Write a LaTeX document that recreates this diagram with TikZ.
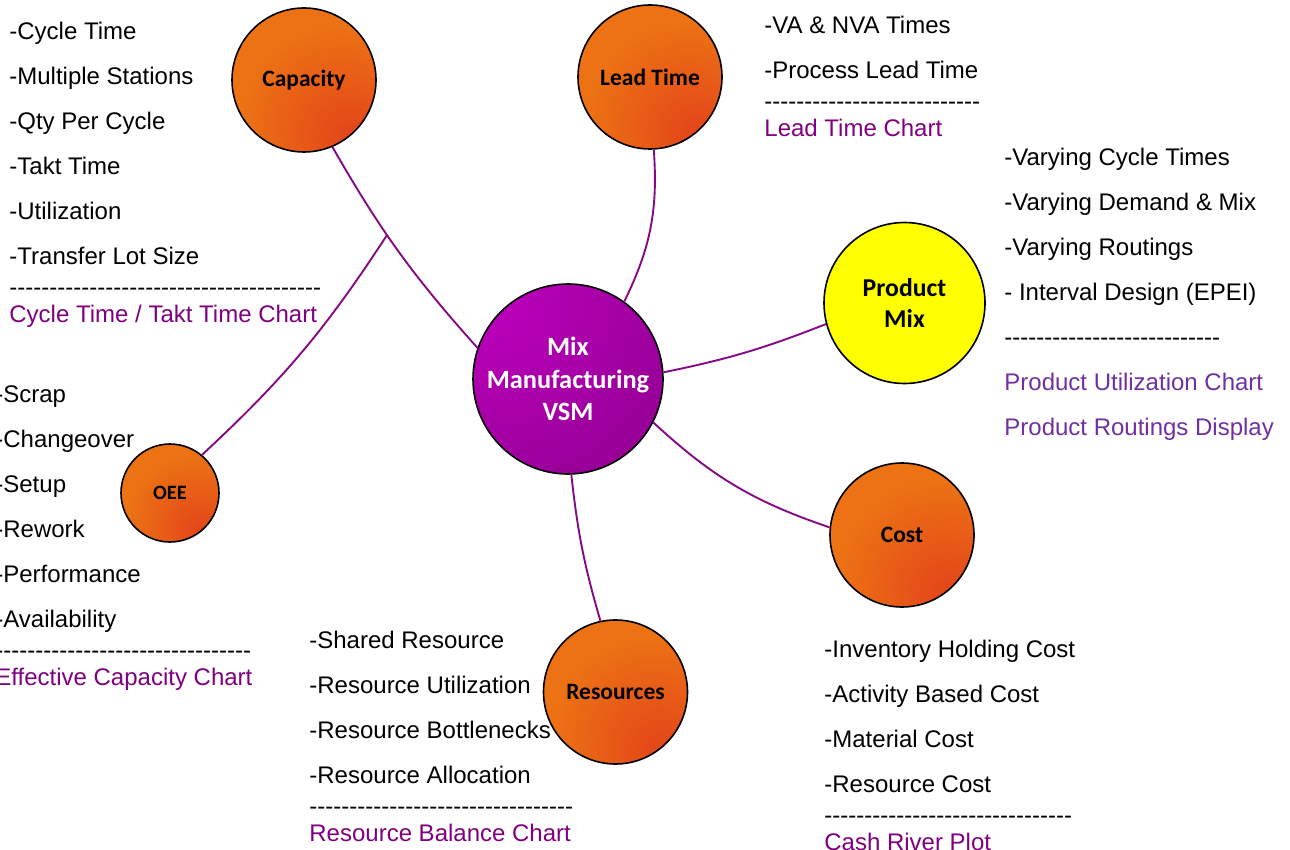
\documentclass[tikz,border=0pt]{standalone}
\usepackage{fontspec}
\newfontfamily\listfont{Liberation Sans}
\newfontfamily\ballfont{Carlito}
\usetikzlibrary{matrix}
\definecolor{linepurple}{RGB}{134,10,134}
\definecolor{chartpurple}{RGB}{128,0,128}
\definecolor{mixpurple}{RGB}{112,48,160}
\definecolor{ballorange}{RGB}{236,114,20}
\definecolor{ballred}{RGB}{227,66,26}
\definecolor{vsmlight}{RGB}{196,0,196}
\definecolor{vsmdark}{RGB}{124,0,124}
\definecolor{prodyellow}{RGB}{255,255,0}
\pgfdeclareradialshading{orangeball}{\pgfpoint{18bp}{-22bp}}{color(0bp)=(ballred); color(12bp)=(ballred!65!ballorange); color(34bp)=(ballorange); color(100bp)=(ballorange)}
\pgfdeclareradialshading{vsmball}{\pgfpoint{-30bp}{28bp}}{color(0bp)=(vsmlight); color(75bp)=(vsmdark); color(100bp)=(vsmdark)}
\newcommand\dashrow[1]{\foreach \k in {1,...,#1}{-}}

\begin{document}
\begin{tikzpicture}[x=0.5pt,y=-0.5pt,
    font=\listfont\fontsize{12}{14}\selectfont,
    ball/.style={circle, draw=black, line width=0.8pt, align=center, inner sep=0pt},
    orange ball/.style={ball, shading=orangeball, minimum size=72pt, font=\ballfont\bfseries\fontsize{11.75}{14}\selectfont},
    notes/.style={matrix of nodes, anchor=north west, inner sep=0pt, row sep=11.5pt,
      nodes={anchor=base west, inner sep=0pt, text height=8.5pt, text depth=2.5pt}},
    chart/.style={text=chartpurple},
    prodchart/.style={text=mixpurple},
    link/.style={draw=linepurple, line width=0.95pt}]
  \useasboundingbox (0,0) rectangle (1290,850);

  % circles
  \node[ball, shading=vsmball, minimum size=95pt, text=white,
    font=\ballfont\bfseries\fontsize{13.2}{16.25}\selectfont] (vsm) at (568,379) {Mix\\Manufacturing\\VSM};
  \node[orange ball] (cap) at (304,80) {Capacity};
  \node[orange ball] (lead) at (650,77) {Lead Time};
  \node[ball, fill=prodyellow, minimum size=80.5pt,
    font=\ballfont\bfseries\fontsize{12.85}{15.5}\selectfont] (prod) at (904.5,303) {Product\\Mix};
  \node[orange ball] (cost) at (902,535) {Cost};
  \node[orange ball] (res) at (615.5,692) {Resources};
  \node[orange ball, minimum size=49pt, font=\ballfont\bfseries\fontsize{10.2}{12}\selectfont] (oee) at (170,493) {OEE};

  % connectors
  \draw[link] (cap.-67) to[bend right=6] coordinate[pos=0.41] (oeejoin) (vsm.161);
  \draw[link] (lead.-87) to[bend left=15] (vsm.54);
  \draw[link] (vsm.4) to[bend right=5] (prod.195);
  \draw[link] (vsm.-27) to[bend right=12] (cost.174);
  \draw[link] (vsm.-88) to[bend right=5] (res.102);
  \draw[link] (oee.50) to[bend right=7] (oeejoin);

  % lists
  \matrix[notes] (caplist) at (9,22.5) {
    -Cycle Time \\
    -Multiple Stations \\
    -Qty Per Cycle \\
    -Takt Time \\
    -Utilization \\
    -Transfer Lot Size \\[-7pt]
    \dashrow{39} \\[-9pt]
    |[chart]| Cycle Time / Takt Time Chart \\
  };
  \matrix[notes] (leadlist) at (764,16.5) {
    -VA \& NVA Times \\
    -Process Lead Time \\[-7pt]
    \dashrow{27} \\[-9pt]
    |[chart]| Lead Time Chart \\
  };
  \matrix[notes] (prodlist) at (1004,148.5) {
    -Varying Cycle Times \\
    -Varying Demand \& Mix \\
    -Varying Routings \\
    - Interval Design (EPEI) \\
    \dashrow{27} \\
    |[prodchart]| Product Utilization Chart \\
    |[prodchart]| Product Routings Display \\
  };
  \matrix[notes] (oeelist) at (-5,385.5) {
    -Scrap \\
    -Changeover \\
    -Setup \\
    -Rework \\
    -Performance \\
    -Availability \\[-7pt]
    \dashrow{32} \\[-9pt]
    |[chart]| Effective Capacity Chart \\
  };
  \matrix[notes] (reslist) at (309,631.5) {
    -Shared Resource \\
    -Resource Utilization \\
    -Resource Bottlenecks \\
    -Resource Allocation \\[-7pt]
    \dashrow{33} \\[-9pt]
    |[chart]| Resource Balance Chart \\
  };
  \matrix[notes] (costlist) at (824,640.5) {
    -Inventory Holding Cost \\
    -Activity Based Cost \\
    -Material Cost \\
    -Resource Cost \\[-7pt]
    \dashrow{31} \\[-9pt]
    |[chart]| Cash River Plot \\
  };
\end{tikzpicture}
\end{document}
